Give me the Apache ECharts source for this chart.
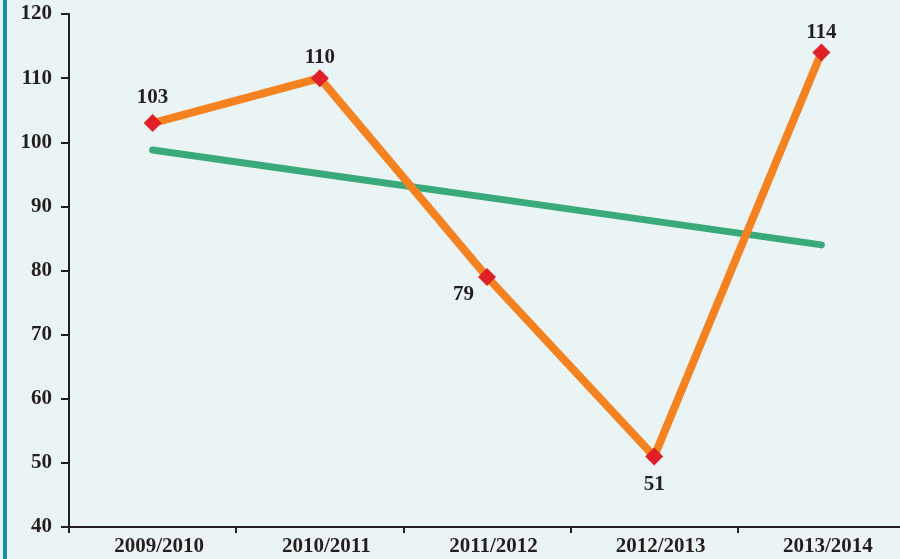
<!DOCTYPE html>
<html><head><meta charset="utf-8">
<script src="https://cdn.jsdelivr.net/npm/echarts@6/dist/echarts.min.js"></script>
<style>html,body{margin:0;padding:0;background:#EBF4F5;overflow:hidden;}#c{width:905px;height:559px;}</style>
</head><body><div id="c"></div>
<script>
var categories = ['2009/2010','2010/2011','2011/2012','2012/2013','2013/2014'];
var values = [103, 110, 79, 51, 114];
var trend = [98.8, 95.1, 91.4, 87.7, 84.0];
var yTicks = [40, 50, 60, 70, 80, 90, 100, 110, 120];

var font = '"Liberation Serif", "Times New Roman", serif';
var chart = echarts.init(document.getElementById('c'));
var labelPos = [
  {position:'top', distance:6},
  {position:'top', distance:1},
  {position:'left', offset:[2,18], distance:6},
  {position:'bottom', distance:9},
  {position:'top', distance:0}
];
chart.setOption({
  backgroundColor: '#EBF4F5',
  animation: false,
  graphic: [{type:'rect', left:3, top:0, shape:{width:4, height:559}, style:{fill:'#0E979B'}}],
  grid: {left:69, top:14, right:0, bottom:32, containLabel:false},
  xAxis: {
    type:'category', data:categories, boundaryGap:true,
    axisLine:{lineStyle:{color:'#231F20', width:2}},
    axisTick:{show:true, length:6, lineStyle:{color:'#231F20', width:2}},
    axisLabel:{color:'#231F20', fontFamily:font, fontWeight:'bold', fontSize:21, margin:9,
      padding:[0,0,0,13]}
  },
  yAxis: {
    type:'value', min:40, max:120, interval:10,
    axisLine:{show:true, lineStyle:{color:'#231F20', width:2}},
    axisTick:{show:true, length:8, lineStyle:{color:'#231F20', width:2}},
    splitLine:{show:false},
    axisLabel:{color:'#231F20', fontFamily:font, fontWeight:'bold', fontSize:21, margin:17,
      formatter:function(v){return yTicks.indexOf(v)>=0? String(v):'';}}
  },
  series: [
    {type:'line', data:trend, symbol:'none', z:2,
     lineStyle:{color:'#3AAA7A', width:7, cap:'round'}},
    {type:'line', z:3,
     data: values.map(function(v,i){
       return {value:v, label:Object.assign({show:true}, labelPos[i])};
     }),
     symbol:'diamond', symbolSize:[18,18],
     itemStyle:{color:'#E01F26'},
     lineStyle:{color:'#F58220', width:8, join:'miter'},
     label:{color:'#231F20', fontFamily:font, fontWeight:'bold', fontSize:21}
    }
  ]
});
</script></body></html>
